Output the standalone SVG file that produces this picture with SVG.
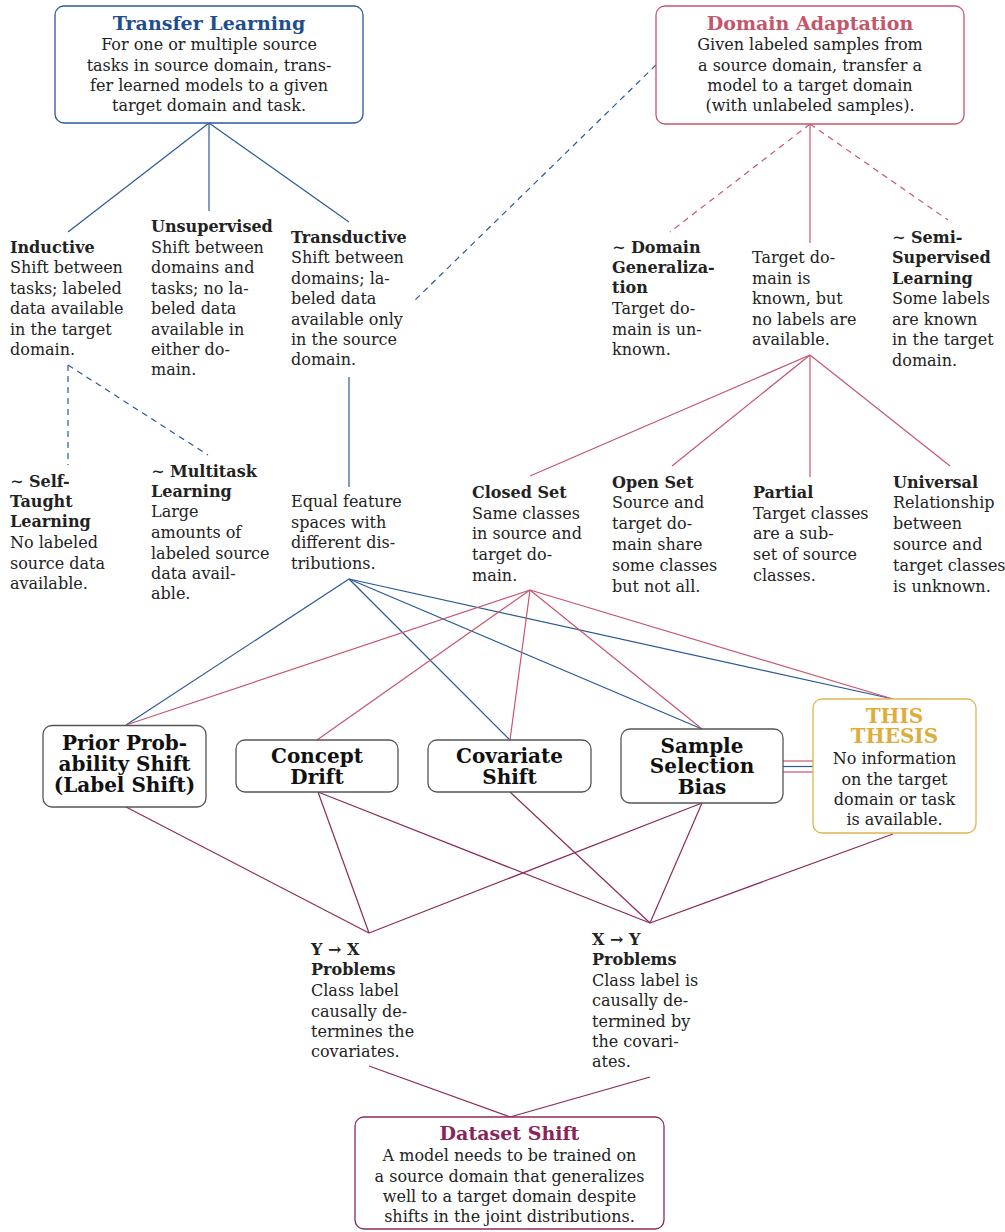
<svg xmlns="http://www.w3.org/2000/svg" width="1005" height="1232" viewBox="0 0 1005 1232">
<style>
text{font-family:"DejaVu Serif","Liberation Serif",serif;font-size:16px;fill:#222}
.b{font-weight:bold}
.ttl{font-size:19px;font-weight:bold}
.mid{text-anchor:middle}
.bx{font-size:20px;font-weight:bold;text-anchor:middle;fill:#111}
.box{fill:#fff;stroke:#555;stroke-width:1.3}
.blue{stroke:#2a5a9b;stroke-width:1.2;fill:none}
.pink{stroke:#c8566e;stroke-width:1.2;fill:none}
.mar{stroke:#8e2a5c;stroke-width:1.2;fill:none}
.dash{stroke-dasharray:6 5}
</style>
<rect width="1005" height="1232" fill="#fff"/>
<g id="connectors">
<line class="blue" x1="209" y1="123" x2="68" y2="232"/>
<line class="blue" x1="209" y1="123" x2="209" y2="211"/>
<line class="blue" x1="209" y1="123" x2="349" y2="222"/>
<line class="blue dash" x1="656" y1="65" x2="415" y2="300"/>
<line class="pink dash" x1="810" y1="124" x2="670" y2="232"/>
<line class="pink" x1="810" y1="124" x2="810" y2="243"/>
<line class="pink dash" x1="810" y1="124" x2="948" y2="220"/>
<line class="blue dash" x1="68" y1="365" x2="68" y2="465"/>
<line class="blue dash" x1="68" y1="365" x2="208" y2="455"/>
<line class="blue" x1="349" y1="377" x2="349" y2="487"/>
<line class="pink" x1="810" y1="355" x2="530" y2="476"/>
<line class="pink" x1="810" y1="355" x2="672" y2="466"/>
<line class="pink" x1="810" y1="355" x2="810" y2="477"/>
<line class="pink" x1="810" y1="355" x2="950" y2="466"/>
<line class="blue" x1="349" y1="579" x2="126" y2="725"/>
<line class="blue" x1="349" y1="579" x2="510" y2="740"/>
<line class="blue" x1="349" y1="579" x2="702" y2="729"/>
<line class="blue" x1="349" y1="579" x2="893" y2="699"/>
<line class="pink" x1="530" y1="590" x2="126" y2="725"/>
<line class="pink" x1="530" y1="590" x2="317" y2="740"/>
<line class="pink" x1="530" y1="590" x2="510" y2="740"/>
<line class="pink" x1="530" y1="590" x2="702" y2="729"/>
<line class="pink" x1="530" y1="590" x2="893" y2="699"/>
<line class="pink" x1="783" y1="761" x2="813" y2="761"/>
<line class="blue" x1="783" y1="766.5" x2="813" y2="766.5"/>
<line class="pink" x1="783" y1="772" x2="813" y2="772"/>
<line class="mar" x1="126" y1="807" x2="369" y2="933"/>
<line class="mar" x1="318" y1="792" x2="369" y2="933"/>
<line class="mar" x1="318" y1="792" x2="650" y2="923"/>
<line class="mar" x1="510" y1="792" x2="650" y2="923"/>
<line class="mar" x1="702" y1="803" x2="369" y2="933"/>
<line class="mar" x1="702" y1="803" x2="650" y2="923"/>
<line class="mar" x1="893" y1="834" x2="650" y2="923"/>
<line class="mar" x1="369" y1="1066" x2="510" y2="1117"/>
<line class="mar" x1="650" y1="1077" x2="510" y2="1117"/>
</g>
<g id="transfer-learning">
<rect x="55" y="6" width="308" height="117" rx="9" fill="#fff" stroke="#2a5a9b" stroke-width="1.3"/>
<text class="ttl mid" x="209" y="30" fill="#1f4e8f" style="fill:#1f4e8f">Transfer Learning</text>
<text class="mid"><tspan x="209" y="50">For one or multiple source</tspan><tspan x="209" y="70.5">tasks in source domain, trans-</tspan><tspan x="209" y="91">fer learned models to a given</tspan><tspan x="209" y="111">target domain and task.</tspan></text>
</g>
<g id="domain-adaptation">
<rect x="656" y="6" width="308" height="118" rx="9" fill="#fff" stroke="#c8566e" stroke-width="1.3"/>
<text class="ttl mid" x="810" y="30" style="fill:#c4566c">Domain Adaptation</text>
<text class="mid"><tspan x="810" y="50">Given labeled samples from</tspan><tspan x="810" y="70.5">a source domain, transfer a</tspan><tspan x="810" y="91">model to a target domain</tspan><tspan x="810" y="111">(with unlabeled samples).</tspan></text>
</g>
<g id="inductive">
<text><tspan class="b" x="10" y="253">Inductive</tspan><tspan x="10" y="273">Shift between</tspan><tspan x="10" y="294">tasks; labeled</tspan><tspan x="10" y="314">data available</tspan><tspan x="10" y="335">in the target</tspan><tspan x="10" y="355">domain.</tspan></text>
</g>
<g id="unsupervised">
<text><tspan class="b" x="151" y="232">Unsupervised</tspan><tspan x="151" y="253">Shift between</tspan><tspan x="151" y="273">domains and</tspan><tspan x="151" y="294">tasks; no la-</tspan><tspan x="151" y="314">beled data</tspan><tspan x="151" y="335">available in</tspan><tspan x="151" y="355">either do-</tspan><tspan x="151" y="375">main.</tspan></text>
</g>
<g id="transductive">
<text><tspan class="b" x="291" y="243">Transductive</tspan><tspan x="291" y="263">Shift between</tspan><tspan x="291" y="284">domains; la-</tspan><tspan x="291" y="304">beled data</tspan><tspan x="291" y="325">available only</tspan><tspan x="291" y="345">in the source</tspan><tspan x="291" y="365">domain.</tspan></text>
</g>
<g id="domain-generalization">
<text><tspan class="b" x="612" y="253">∼ Domain</tspan><tspan class="b" x="612" y="273">Generaliza-</tspan><tspan class="b" x="612" y="293">tion</tspan><tspan x="612" y="314">Target do-</tspan><tspan x="612" y="335">main is un-</tspan><tspan x="612" y="355">known.</tspan></text>
</g>
<g id="target-known">
<text><tspan x="752" y="263">Target do-</tspan><tspan x="752" y="284">main is</tspan><tspan x="752" y="304">known, but</tspan><tspan x="752" y="325">no labels are</tspan><tspan x="752" y="345">available.</tspan></text>
</g>
<g id="semi-supervised">
<text><tspan class="b" x="892" y="243">∼ Semi-</tspan><tspan class="b" x="892" y="263">Supervised</tspan><tspan class="b" x="892" y="284">Learning</tspan><tspan x="892" y="304">Some labels</tspan><tspan x="892" y="325">are known</tspan><tspan x="892" y="345">in the target</tspan><tspan x="892" y="366">domain.</tspan></text>
</g>
<g id="self-taught">
<text><tspan class="b" x="10" y="487">∼ Self-</tspan><tspan class="b" x="10" y="507">Taught</tspan><tspan class="b" x="10" y="527">Learning</tspan><tspan x="10" y="548">No labeled</tspan><tspan x="10" y="569">source data</tspan><tspan x="10" y="589">available.</tspan></text>
</g>
<g id="multitask">
<text><tspan class="b" x="151" y="477">∼ Multitask</tspan><tspan class="b" x="151" y="497">Learning</tspan><tspan x="151" y="517">Large</tspan><tspan x="151" y="538">amounts of</tspan><tspan x="151" y="559">labeled source</tspan><tspan x="151" y="579">data avail-</tspan><tspan x="151" y="599">able.</tspan></text>
</g>
<g id="equal-feature">
<text><tspan x="291" y="507">Equal feature</tspan><tspan x="291" y="528">spaces with</tspan><tspan x="291" y="548">different dis-</tspan><tspan x="291" y="569">tributions.</tspan></text>
</g>
<g id="closed-set">
<text><tspan class="b" x="472" y="498">Closed Set</tspan><tspan x="472" y="519">Same classes</tspan><tspan x="472" y="539">in source and</tspan><tspan x="472" y="560">target do-</tspan><tspan x="472" y="581">main.</tspan></text>
</g>
<g id="open-set">
<text><tspan class="b" x="612" y="488">Open Set</tspan><tspan x="612" y="508">Source and</tspan><tspan x="612" y="529">target do-</tspan><tspan x="612" y="550">main share</tspan><tspan x="612" y="571">some classes</tspan><tspan x="612" y="592">but not all.</tspan></text>
</g>
<g id="partial">
<text><tspan class="b" x="753" y="498">Partial</tspan><tspan x="753" y="519">Target classes</tspan><tspan x="753" y="539">are a sub-</tspan><tspan x="753" y="560">set of source</tspan><tspan x="753" y="581">classes.</tspan></text>
</g>
<g id="universal">
<text><tspan class="b" x="893" y="488">Universal</tspan><tspan x="893" y="508">Relationship</tspan><tspan x="893" y="529">between</tspan><tspan x="893" y="550">source and</tspan><tspan x="893" y="571">target classes</tspan><tspan x="893" y="592">is unknown.</tspan></text>
</g>
<g id="prior-probability-shift">
<rect class="box" x="43" y="725.5" width="163" height="81.5" rx="9"/>
<text class="bx"><tspan x="124.5" y="750">Prior Prob-</tspan><tspan x="124.5" y="771">ability Shift</tspan><tspan x="124.5" y="792">(Label Shift)</tspan></text>
</g>
<g id="concept-drift">
<rect class="box" x="236" y="740" width="162" height="52" rx="9"/>
<text class="bx"><tspan x="317" y="763">Concept</tspan><tspan x="317" y="784">Drift</tspan></text>
</g>
<g id="covariate-shift">
<rect class="box" x="428" y="740" width="163" height="52" rx="9"/>
<text class="bx"><tspan x="509.5" y="763">Covariate</tspan><tspan x="509.5" y="784">Shift</tspan></text>
</g>
<g id="sample-selection-bias">
<rect class="box" x="621" y="729" width="162" height="74" rx="9"/>
<text class="bx"><tspan x="702" y="753">Sample</tspan><tspan x="702" y="773">Selection</tspan><tspan x="702" y="794">Bias</tspan></text>
</g>
<g id="this-thesis">
<rect x="813" y="699" width="163" height="134" rx="9" fill="#fff" stroke="#e2b450" stroke-width="1.3"/>
<text class="bx" style="fill:#dfad3c"><tspan x="894.5" y="723">THIS</tspan><tspan x="894.5" y="743">THESIS</tspan></text>
<text class="mid"><tspan x="894.5" y="764">No information</tspan><tspan x="894.5" y="785">on the target</tspan><tspan x="894.5" y="805">domain or task</tspan><tspan x="894.5" y="825">is available.</tspan></text>
</g>
<g id="y-to-x">
<text><tspan class="b" x="311" y="955">Y → X</tspan><tspan class="b" x="311" y="975">Problems</tspan><tspan x="311" y="996">Class label</tspan><tspan x="311" y="1017">causally de-</tspan><tspan x="311" y="1037">termines the</tspan><tspan x="311" y="1057">covariates.</tspan></text>
</g>
<g id="x-to-y">
<text><tspan class="b" x="592" y="945">X → Y</tspan><tspan class="b" x="592" y="965">Problems</tspan><tspan x="592" y="986">Class label is</tspan><tspan x="592" y="1006">causally de-</tspan><tspan x="592" y="1027">termined by</tspan><tspan x="592" y="1047">the covari-</tspan><tspan x="592" y="1067">ates.</tspan></text>
</g>
<g id="dataset-shift">
<rect x="355" y="1117" width="309" height="112" rx="9" fill="#fff" stroke="#8e2a5c" stroke-width="1.3"/>
<text class="ttl mid" x="509.5" y="1140" style="fill:#8a2456">Dataset Shift</text>
<text class="mid"><tspan x="509.5" y="1161">A model needs to be trained on</tspan><tspan x="509.5" y="1182">a source domain that generalizes</tspan><tspan x="509.5" y="1202">well to a target domain despite</tspan><tspan x="509.5" y="1222">shifts in the joint distributions.</tspan></text>
</g>
</svg>
